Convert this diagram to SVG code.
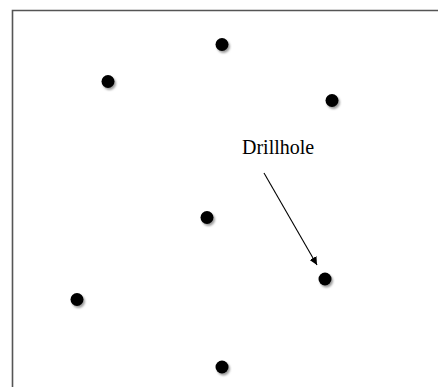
<svg xmlns="http://www.w3.org/2000/svg" width="438" height="387" viewBox="0 0 438 387">
  <style>
    .frame { fill: none; stroke: #555555; stroke-width: 1.6; }
    .dot { fill: #000000; }
    .shadow { fill: #9a9a9a; filter: url(#blur); }
    .label { font-family: "Liberation Serif", "Times New Roman", serif; font-size: 20px; fill: #000000; }
    .conn { stroke: #000000; stroke-width: 1.1; fill: none; }
  </style>
  <defs>
    <filter id="blur" x="-50%" y="-50%" width="200%" height="200%">
      <feGaussianBlur stdDeviation="1"/>
    </filter>
    <marker id="arrow" viewBox="0 0 10 10" refX="10" refY="5" markerWidth="8" markerHeight="8" markerUnits="userSpaceOnUse" orient="auto">
      <path d="M0,0 L10,5 L0,10 z" fill="#000000"/>
    </marker>
    <g id="hole">
      <circle class="shadow" cx="1.5" cy="2" r="6.5"/>
      <circle class="dot" cx="0" cy="0" r="6.5"/>
    </g>
  </defs>
  <rect width="438" height="387" fill="#ffffff"/>
  <path class="frame" d="M12.5,387 L12.5,10.5 L438,10.5"/>
  <g id="hole1"><use href="#hole" x="222" y="44.5"/></g>
  <g id="hole2"><use href="#hole" x="108" y="81.5"/></g>
  <g id="hole3"><use href="#hole" x="332" y="100.5"/></g>
  <g id="hole4"><use href="#hole" x="207" y="217.5"/></g>
  <g id="hole5"><use href="#hole" x="325" y="279"/></g>
  <g id="hole6"><use href="#hole" x="77" y="299.5"/></g>
  <g id="hole7"><use href="#hole" x="222" y="367"/></g>
  <g id="label">
    <text class="label" x="242" y="154">Drillhole</text>
  </g>
  <g id="connectors">
    <line class="conn" x1="264" y1="173" x2="317" y2="265" marker-end="url(#arrow)"/>
  </g>
</svg>
